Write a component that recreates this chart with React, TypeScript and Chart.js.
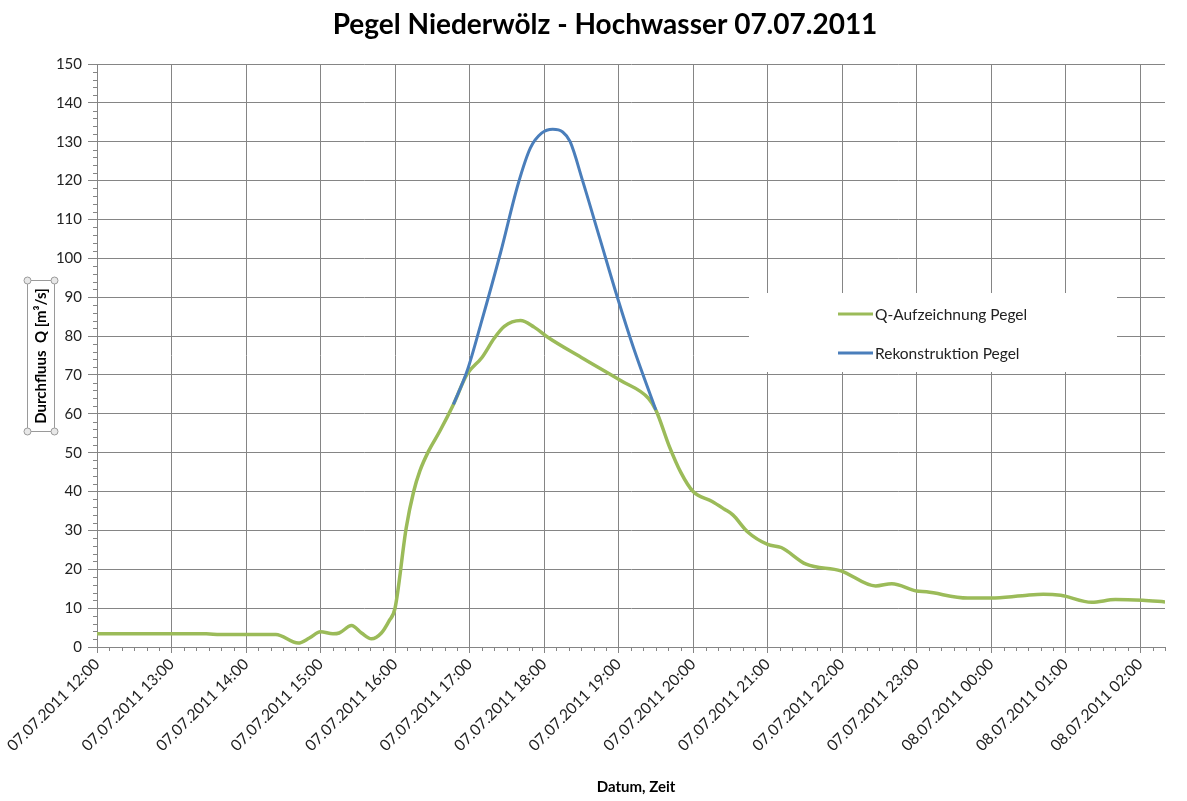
import React, { useEffect, useRef } from "react";
import { Chart, registerables } from "chart.js";

Chart.register(...registerables);

// Minutes after 07.07.2011 12:00
const recordedTimes = [0, 30, 60, 88, 99, 120, 144, 162, 171, 180, 190, 195, 205, 213, 221, 229, 235, 240, 249, 255, 260, 267, 276, 287, 298, 310, 320, 328, 341, 352, 363, 390, 422, 444, 450, 461, 470, 480, 495, 505, 512, 524, 540, 551, 571, 599, 627, 640, 660, 668, 701, 720, 745, 762, 776, 801, 820, 842, 860];
const recordedValues = [3.4, 3.4, 3.4, 3.4, 3.2, 3.2, 3.2, 1.0, 2.3, 3.9, 3.4, 3.6, 5.5, 3.6, 2.1, 3.6, 6.6, 10, 30.7, 40, 45.3, 50.4, 55.5, 62.4, 70.2, 74.5, 79.5, 82.5, 84, 82.3, 79.7, 74.5, 68.5, 64, 61, 51.5, 45, 40, 37.5, 35.5, 34, 29.6, 26.4, 25.6, 21.3, 19.6, 15.7, 16.3, 14.4, 14.2, 12.6, 12.6, 13.2, 13.6, 13.3, 11.5, 12.2, 12, 11.6];

const reconTimes = [287, 298, 309, 325, 339, 349, 358, 367, 375, 381, 391, 405, 419, 432, 450];
const reconValues = [62.4, 71, 83, 101.5, 119, 128.4, 132.2, 133.2, 132.5, 130, 120, 105, 90, 77, 61];

const seriesLabels = ["Q-Aufzeichnung Pegel", "Rekonstruktion Pegel"];
const seriesColors = ["#9bbb59", "#4a7ebb"];

const chartTitle = "Pegel Niederwölz - Hochwasser 07.07.2011";
const xTitle = "Datum, Zeit";
const yTitle = "Durchfluus  Q [m³/s]";

const xMin = 0;
const xMax = 860;
const xStep = 60;
const yMin = 0;
const yMax = 150;

function two(n: number) {
  return n < 10 ? "0" + n : "" + n;
}
function timeLabel(min: number) {
  const total = 12 * 60 + min;
  const day = 7 + Math.floor(total / 1440);
  const rem = total % 1440;
  return `${two(day)}.07.2011 ${two(Math.floor(rem / 60))}:${two(rem % 60)}`;
}

const FONT = "Lato, 'Open Sans', sans-serif";
const GRID = "#858585";

const decorPlugin = {
  id: "decor",
  afterDraw(chart: any) {
    const ctx = chart.ctx;
    const { left, bottom } = chart.chartArea;
    const xs = chart.scales.x;
    const ys = chart.scales.y;
    ctx.save();
    // minor ticks
    ctx.strokeStyle = GRID;
    ctx.lineWidth = 1;
    ctx.beginPath();
    for (let v = yMin; v <= yMax; v += 2) {
      if (v % 10 === 0) continue;
      const y = Math.round(ys.getPixelForValue(v)) + 0.5;
      ctx.moveTo(left - 4, y);
      ctx.lineTo(left, y);
    }
    for (let t = xMin; t <= xMax; t += 10) {
      if (t % 60 === 0) continue;
      const x = Math.round(xs.getPixelForValue(t)) + 0.5;
      ctx.moveTo(x, bottom);
      ctx.lineTo(x, bottom + 4);
    }
    ctx.stroke();

    // title
    ctx.fillStyle = "#000";
    ctx.font = `bold 28px ${FONT}`;
    ctx.textAlign = "center";
    ctx.textBaseline = "middle";
    ctx.fillText(chartTitle, 605, 25);

    // x title
    ctx.font = `bold 15px ${FONT}`;
    ctx.fillText(xTitle, 636, 787);

    // y title with selection box
    ctx.strokeStyle = "#9a9a9a";
    ctx.strokeRect(27.5, 280.5, 27, 151);
    ctx.fillStyle = "#e8e8e8";
    for (const [cx, cy] of [[27.5, 280.5], [54.5, 280.5], [27.5, 431.5], [54.5, 431.5]]) {
      ctx.beginPath();
      ctx.arc(cx, cy, 3.5, 0, Math.PI * 2);
      ctx.fill();
      ctx.stroke();
    }
    ctx.save();
    ctx.translate(41, 356);
    ctx.rotate(-Math.PI / 2);
    ctx.fillStyle = "#000";
    ctx.font = `bold 15px ${FONT}`;
    ctx.fillText(yTitle, 0, 0);
    ctx.restore();

    // legend
    ctx.fillStyle = "#ffffff";
    ctx.fillRect(749, 293, 368, 79);
    const rows = [314, 353];
    ctx.font = `15.5px ${FONT}`;
    ctx.textAlign = "left";
    chart.data.datasets.forEach((ds: any, i: number) => {
      const y = rows[i];
      ctx.strokeStyle = ds.borderColor;
      ctx.lineWidth = 3;
      ctx.beginPath();
      ctx.moveTo(838, y);
      ctx.lineTo(873, y);
      ctx.stroke();
      ctx.fillStyle = "#222";
      ctx.fillText(ds.label, 875, y + 1);
    });
    ctx.restore();
  },
};

export default function App() {
  const ref = useRef<HTMLCanvasElement | null>(null);
  useEffect(() => {
    document.body.style.margin = "0";
    const canvas = ref.current!;
    const recorded = recordedTimes.map((t, i) => ({ x: t, y: recordedValues[i] }));
    const recon = reconTimes.map((t, i) => ({ x: t, y: reconValues[i] }));
    const chart = new Chart(canvas, {
      type: "line",
      data: {
        datasets: [
          {
            label: seriesLabels[0],
            data: recorded,
            borderColor: seriesColors[0],
            backgroundColor: seriesColors[0],
            borderWidth: 3.5,
            pointRadius: 0,
            cubicInterpolationMode: "monotone",
            order: 2,
          },
          {
            label: seriesLabels[1],
            data: recon,
            borderColor: seriesColors[1],
            backgroundColor: seriesColors[1],
            borderWidth: 3,
            pointRadius: 0,
            cubicInterpolationMode: "monotone",
            order: 1,
          },
        ],
      },
      options: {
        responsive: false,
        animation: false,
        devicePixelRatio: 1,
        layout: { padding: { top: 64, right: 22, left: 0, bottom: 0 } },
        plugins: {
          legend: { display: false },
          title: { display: false },
          tooltip: { enabled: false },
        },
        scales: {
          x: {
            type: "linear",
            min: xMin,
            max: xMax,
            afterFit: (s: any) => {
              s.height = 154;
            },
            afterBuildTicks: (s: any) => {
              const t: any[] = [];
              for (let v = xMin; v <= xMax; v += xStep) t.push({ value: v });
              s.ticks = t;
            },
            ticks: {
              stepSize: xStep,
              minRotation: 45,
              maxRotation: 45,
              autoSkip: false,
              padding: 2,
              color: "#222",
              font: { family: FONT, size: 15.5 },
              callback: (v: any) => timeLabel(Number(v)),
            },
            grid: { color: GRID, tickLength: 6, lineWidth: 1 },
            border: { color: GRID },
          },
          y: {
            min: yMin,
            max: yMax,
            afterFit: (s: any) => {
              s.width = 97;
            },
            ticks: {
              stepSize: 10,
              padding: 6,
              color: "#222",
              font: { family: FONT, size: 15 },
            },
            grid: { color: GRID, tickLength: 9, lineWidth: 1 },
            border: { color: GRID },
          },
        },
      },
      plugins: [decorPlugin],
    });
    return () => chart.destroy();
  }, []);
  return (
    <div style={{ position: "absolute", left: 0, top: 0, width: 1187, height: 801, background: "#fff" }}>
      <canvas ref={ref} width={1187} height={801} />
    </div>
  );
}
